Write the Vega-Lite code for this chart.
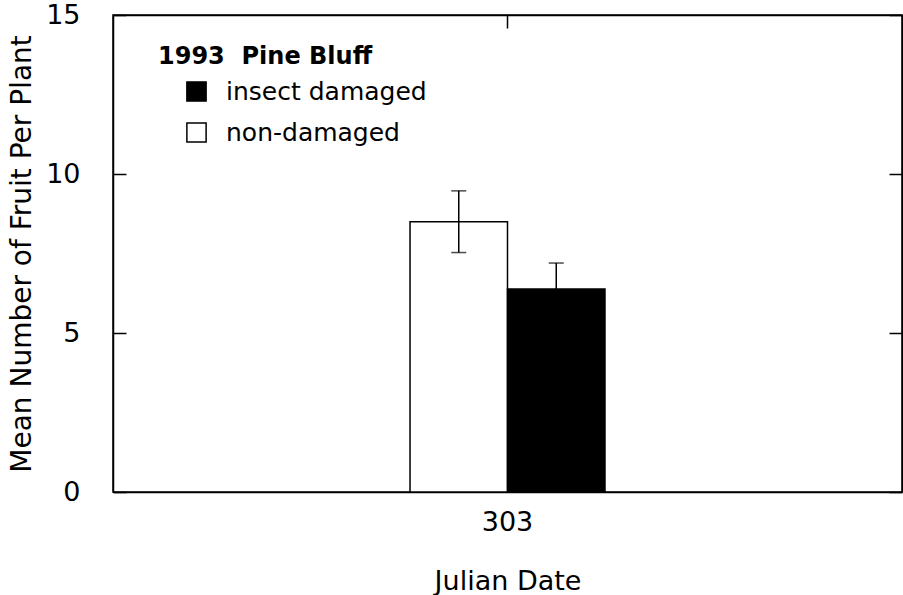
{
  "$schema": "https://vega.github.io/schema/vega-lite/v6.json",
  "width": 789,
  "height": 477,
  "autosize": {"type": "none"},
  "padding": {"left": 113, "top": 15, "right": 1, "bottom": 103},
  "background": "white",
  "config": {
    "font": "DejaVu Sans",
    "view": {"stroke": "black", "strokeWidth": 1.5},
    "axis": {
      "grid": false,
      "domainColor": "black",
      "domainWidth": 1.5,
      "tickColor": "black",
      "tickWidth": 1.5,
      "tickSize": -13,
      "labelColor": "black",
      "titleColor": "black",
      "labelFont": "DejaVu Sans",
      "titleFont": "DejaVu Sans",
      "labelFontSize": 27,
      "titleFontSize": 27,
      "titleFontWeight": "normal"
    }
  },
  "data": {
    "values": [
      {"date": "303", "group": "non-damaged", "mean": 8.5, "lo": 7.53, "hi": 9.47},
      {"date": "303", "group": "insect damaged", "mean": 6.38, "lo": 5.56, "hi": 7.2}
    ]
  },
  "layer": [
    {
      "mark": {"type": "bar", "stroke": "black", "strokeWidth": 1.5},
      "encoding": {
        "x": {
          "field": "date", "type": "nominal",
          "scale": {"paddingInner": 0, "paddingOuter": 1},
          "axis": {"orient": "bottom", "title": "Julian Date", "labelAngle": 0, "labelPadding": 30, "titlePadding": 33}
        },
        "xOffset": {"field": "group", "type": "nominal", "scale": {"domain": ["non-damaged", "insect damaged"], "paddingInner": 0, "paddingOuter": 0.349}},
        "y": {
          "field": "mean", "type": "quantitative",
          "scale": {"domain": [0, 15], "nice": false},
          "axis": {"orient": "left", "values": [0, 5, 10, 15], "title": "Mean Number of Fruit Per Plant", "titleFontSize": 28, "labelPadding": 46, "titlePadding": 9}
        },
        "fill": {
          "field": "group", "type": "nominal",
          "scale": {"domain": ["insect damaged", "non-damaged"], "range": ["black", "white"]},
          "legend": {
            "orient": "none", "legendX": 45, "legendY": 30,
            "title": "1993\u00a0 Pine Bluff",
            "titleFont": "DejaVu Sans", "titleFontSize": 24, "titleFontWeight": "bold", "titleColor": "black",
            "titlePadding": 10, "titleLimit": 400, "labelLimit": 400,
            "labelFont": "DejaVu Sans", "labelFontSize": 25, "labelColor": "black",
            "symbolType": "square", "symbolSize": 370, "symbolStrokeColor": "black", "symbolStrokeWidth": 1.5,
            "symbolOffset": 26, "labelOffset": 17, "rowPadding": 14, "padding": 0
          }
        }
      }
    },
    {
      "mark": {"type": "rule", "color": "black", "strokeWidth": 1.5},
      "encoding": {
        "x": {"field": "date", "type": "nominal", "axis": null},
        "xOffset": {"field": "group", "type": "nominal"},
        "y": {"field": "lo", "type": "quantitative", "axis": null},
        "y2": {"field": "hi"}
      }
    },
    {
      "mark": {"type": "tick", "color": "black", "size": 15, "thickness": 1.5},
      "encoding": {
        "x": {"field": "date", "type": "nominal", "axis": null},
        "xOffset": {"field": "group", "type": "nominal"},
        "y": {"field": "lo", "type": "quantitative", "axis": null}
      }
    },
    {
      "mark": {"type": "tick", "color": "black", "size": 15, "thickness": 1.5},
      "encoding": {
        "x": {"field": "date", "type": "nominal", "axis": {"orient": "top", "labels": false, "title": null}},
        "xOffset": {"field": "group", "type": "nominal"},
        "y": {"field": "hi", "type": "quantitative", "axis": {"orient": "right", "labels": false, "title": null, "values": [0, 5, 10, 15]}}
      }
    }
  ]
}
